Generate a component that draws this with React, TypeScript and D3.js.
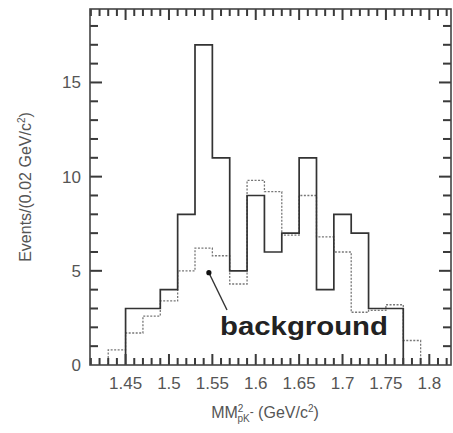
import React from 'react';
import * as d3 from 'd3';

// bin width 0.02 GeV/c^2
const binWidth = 0.02;

// data histogram (solid), first bin starts at 1.45
const dataStart = 1.45;
const dataCounts = [3, 3, 4, 8, 17, 11, 5, 9, 6, 7, 11, 4, 8, 7, 3, 3];

// background histogram (dotted), first bin starts at 1.43
const bgStart = 1.43;
const bgCounts = [0.8, 1.7, 2.6, 3.4, 5.0, 6.2, 5.8, 4.3, 9.8, 9.2, 6.9, 9.0, 6.8, 6.0, 2.8, 2.9, 3.2, 1.3];

const xTickLabels = [1.45, 1.5, 1.55, 1.6, 1.65, 1.7, 1.75, 1.8];
const yTickLabels = [0, 5, 10, 15];
const xMinorTicks = d3.range(141, 183).map(k => k / 100);
const yMinorTicks = d3.range(1, 19);

const W = 453;
const H = 433;
const L = 90, R = 451, T = 9, B = 365;

const x = d3.scaleLinear().domain([1.409, 1.825]).range([L, R]);
const y = d3.scaleLinear().domain([0, 18.9]).range([B, T]);

const axisColor = '#444';
const textColor = '#555';
const font = 'Liberation Sans, Arial, sans-serif';

// step outline for a histogram
const stepPts = (start: number, counts: number[]) => {
  const pts: [number, number][] = [[start, 0]];
  counts.forEach((c, i) => pts.push([start + i * binWidth, c]));
  const end = start + counts.length * binWidth;
  pts.push([end, counts[counts.length - 1]]);
  pts.push([end, 0]);
  return pts;
};
const stepLine = d3.line<[number, number]>().x(d => x(d[0])).y(d => y(d[1])).curve(d3.curveStepAfter);

const App = () => {
  const ptr = [x(1.546), y(4.9)];
  const xLen = (v: number) => (Math.round(v * 100) % 5 === 0 ? 11 : 7);
  const yLen = (v: number) => (v % 5 === 0 ? 12 : 8);
  const tw = 2;
  return (
    <svg width={W} height={H}
      style={{ position: 'absolute', left: 0, top: 0, background: '#fff', display: 'block' }}>
      {/* background (dotted) */}
      <path d={stepLine(stepPts(bgStart, bgCounts)) || ''} fill="none"
        stroke="#777" strokeWidth={1.3} strokeDasharray="2,1.5" />
      {/* data (solid) */}
      <path d={stepLine(stepPts(dataStart, dataCounts)) || ''} fill="none"
        stroke="#333" strokeWidth={1.7} />

      {/* inward ticks on all four sides */}
      <g fill="#3a3a3a">
        {xMinorTicks.map(v => (
          <rect key={'xb' + v} x={x(v) - tw / 2} y={B - xLen(v)} width={tw} height={xLen(v)} />
        ))}
        {xMinorTicks.map(v => (
          <rect key={'xt' + v} x={x(v) - tw / 2} y={T} width={tw} height={xLen(v)} />
        ))}
        {yMinorTicks.map(v => (
          <rect key={'yl' + v} x={L} y={y(v) - tw / 2} width={yLen(v)} height={tw} />
        ))}
        {yMinorTicks.map(v => (
          <rect key={'yr' + v} x={R - yLen(v)} y={y(v) - tw / 2} width={yLen(v)} height={tw} />
        ))}
      </g>
      <rect x={L} y={T} width={R - L} height={B - T} fill="none" stroke={axisColor} strokeWidth={1.6} />

      <g fontFamily={font} fontSize={17} fill={textColor}>
        {xTickLabels.map(d => (
          <text key={d} x={x(d)} y={389} textAnchor="middle">{String(d)}</text>
        ))}
        {yTickLabels.map(d => (
          <text key={d} x={81} y={y(d) + 6} textAnchor="end">{String(d)}</text>
        ))}
      </g>

      {/* y title */}
      <text transform="translate(31,187) rotate(-90)" textAnchor="middle"
        fontFamily={font} fontSize={16} fill={textColor}>
        Events/(0.02 GeV/c<tspan fontSize={10} dy={-6}>2</tspan><tspan dy={6}>)</tspan>
      </text>

      {/* x title */}
      <text x={265} y={418} textAnchor="middle" fontFamily={font} fontSize={16} fill={textColor}>
        MM<tspan fontSize={10} dy={-6}>2</tspan>
        <tspan fontSize={10} dx={-6} dy={10}>pK</tspan>
        <tspan fontSize={12} dy={-6}>-</tspan>
        <tspan dy={2}> (GeV/c</tspan>
        <tspan fontSize={10} dy={-6}>2</tspan>
        <tspan dy={6}>)</tspan>
      </text>

      {/* "background" annotation */}
      <line x1={227} y1={310} x2={ptr[0]} y2={ptr[1]} stroke="#333" strokeWidth={1.4} />
      <circle cx={ptr[0]} cy={ptr[1]} r={2.6} fill="#111" />
      <text x={220} y={335} fontFamily={font} fontWeight="bold" fontSize={25} fill="#222"
        textLength={168} lengthAdjust="spacingAndGlyphs">background</text>
    </svg>
  );
};

export default App;
